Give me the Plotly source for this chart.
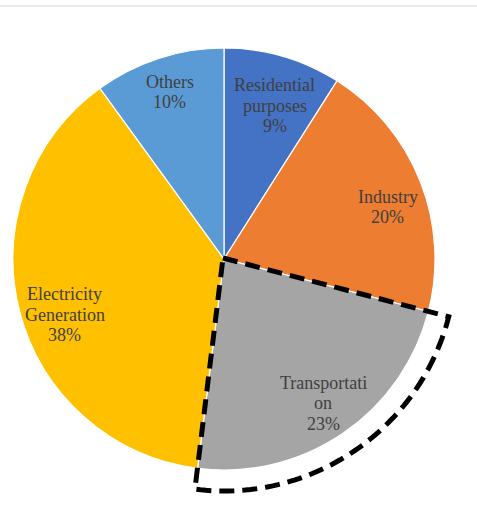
import math
import plotly.graph_objects as go

# Share of emissions by sector
labels = ["Residential<br>purposes", "Industry", "Transportati<br>on", "Electricity<br>Generation", "Others"]
values = [9, 20, 23, 38, 10]
colors = ["#4472C4", "#ED7D31", "#A5A5A5", "#FFC000", "#5B9BD5"]
highlight = 2  # Transportation

W, H = 477, 515
CX, CY, R = 224, 259, 211  # pie centre / radius in pixels
FONT = "Liberation Serif"

fig = go.Figure(go.Pie(
    labels=labels,
    values=values,
    sort=False,
    direction="clockwise",
    rotation=0,
    marker=dict(colors=colors, line=dict(color="white", width=1.2)),
    textinfo="none",
    hoverinfo="label+percent",
    showlegend=False,
    domain=dict(x=[(CX - R) / W, (CX + R) / W], y=[(H - CY - R) / H, (H - CY + R) / H]),
))

total = sum(values)


def to_paper(px, py):
    return px / W, 1 - py / H


# Slice labels near each slice's mid-angle, one annotation per line
label_radius = [0.765, 0.815, 0.83, 0.80, 0.833]
label_nudge = [2.2, 4.0, -0.3, -4.9, 0.0]  # degrees
LINE = 20.5
cum = 0
for lab, v, rf, dn in zip(labels, values, label_radius, label_nudge):
    mid = (cum + v / 2) / total * 2 * math.pi + math.radians(dn)
    cum += v
    r = rf * R
    px = CX + r * math.sin(mid)
    py = CY - r * math.cos(mid)
    lines = lab.split("<br>") + [f"{round(v / total * 100)}%"]
    for k, line in enumerate(lines):
        ly = py + (k - (len(lines) - 1) / 2) * LINE
        x, y = to_paper(px, ly)
        fig.add_annotation(
            x=x, y=y, xref="paper", yref="paper", showarrow=False,
            xanchor="center", yanchor="middle",
            text=line,
            font=dict(family=FONT, size=18, color="#404040"),
        )

# Dashed outline around the highlighted slice
start = sum(values[:highlight]) / total * 2 * math.pi
end = sum(values[:highlight + 1]) / total * 2 * math.pi
RO = 232
pts = [(CX - 1, CY - 1)]
n = 60
for i in range(n + 1):
    a = start + (end - start) * i / n
    pts.append((CX + RO * math.sin(a), CY - RO * math.cos(a)))
path = ""
for i, (px, py) in enumerate(pts):
    x, y = to_paper(px, py)
    path += ("M" if i == 0 else "L") + f"{x:.5f},{y:.5f} "
path += "Z"
fig.add_shape(type="path", path=path, xref="paper", yref="paper",
              line=dict(color="black", width=5, dash="15px,8px"))

# Thin separator line at the top
fig.add_shape(type="line", xref="paper", yref="paper", x0=0, x1=1,
              y0=1 - 6 / H, y1=1 - 6 / H, line=dict(color="#E3E3E3", width=1.5))

fig.update_layout(
    width=W, height=H,
    margin=dict(l=0, r=0, t=0, b=0),
    paper_bgcolor="white",
    plot_bgcolor="white",
)

fig.write_html("out.html")
